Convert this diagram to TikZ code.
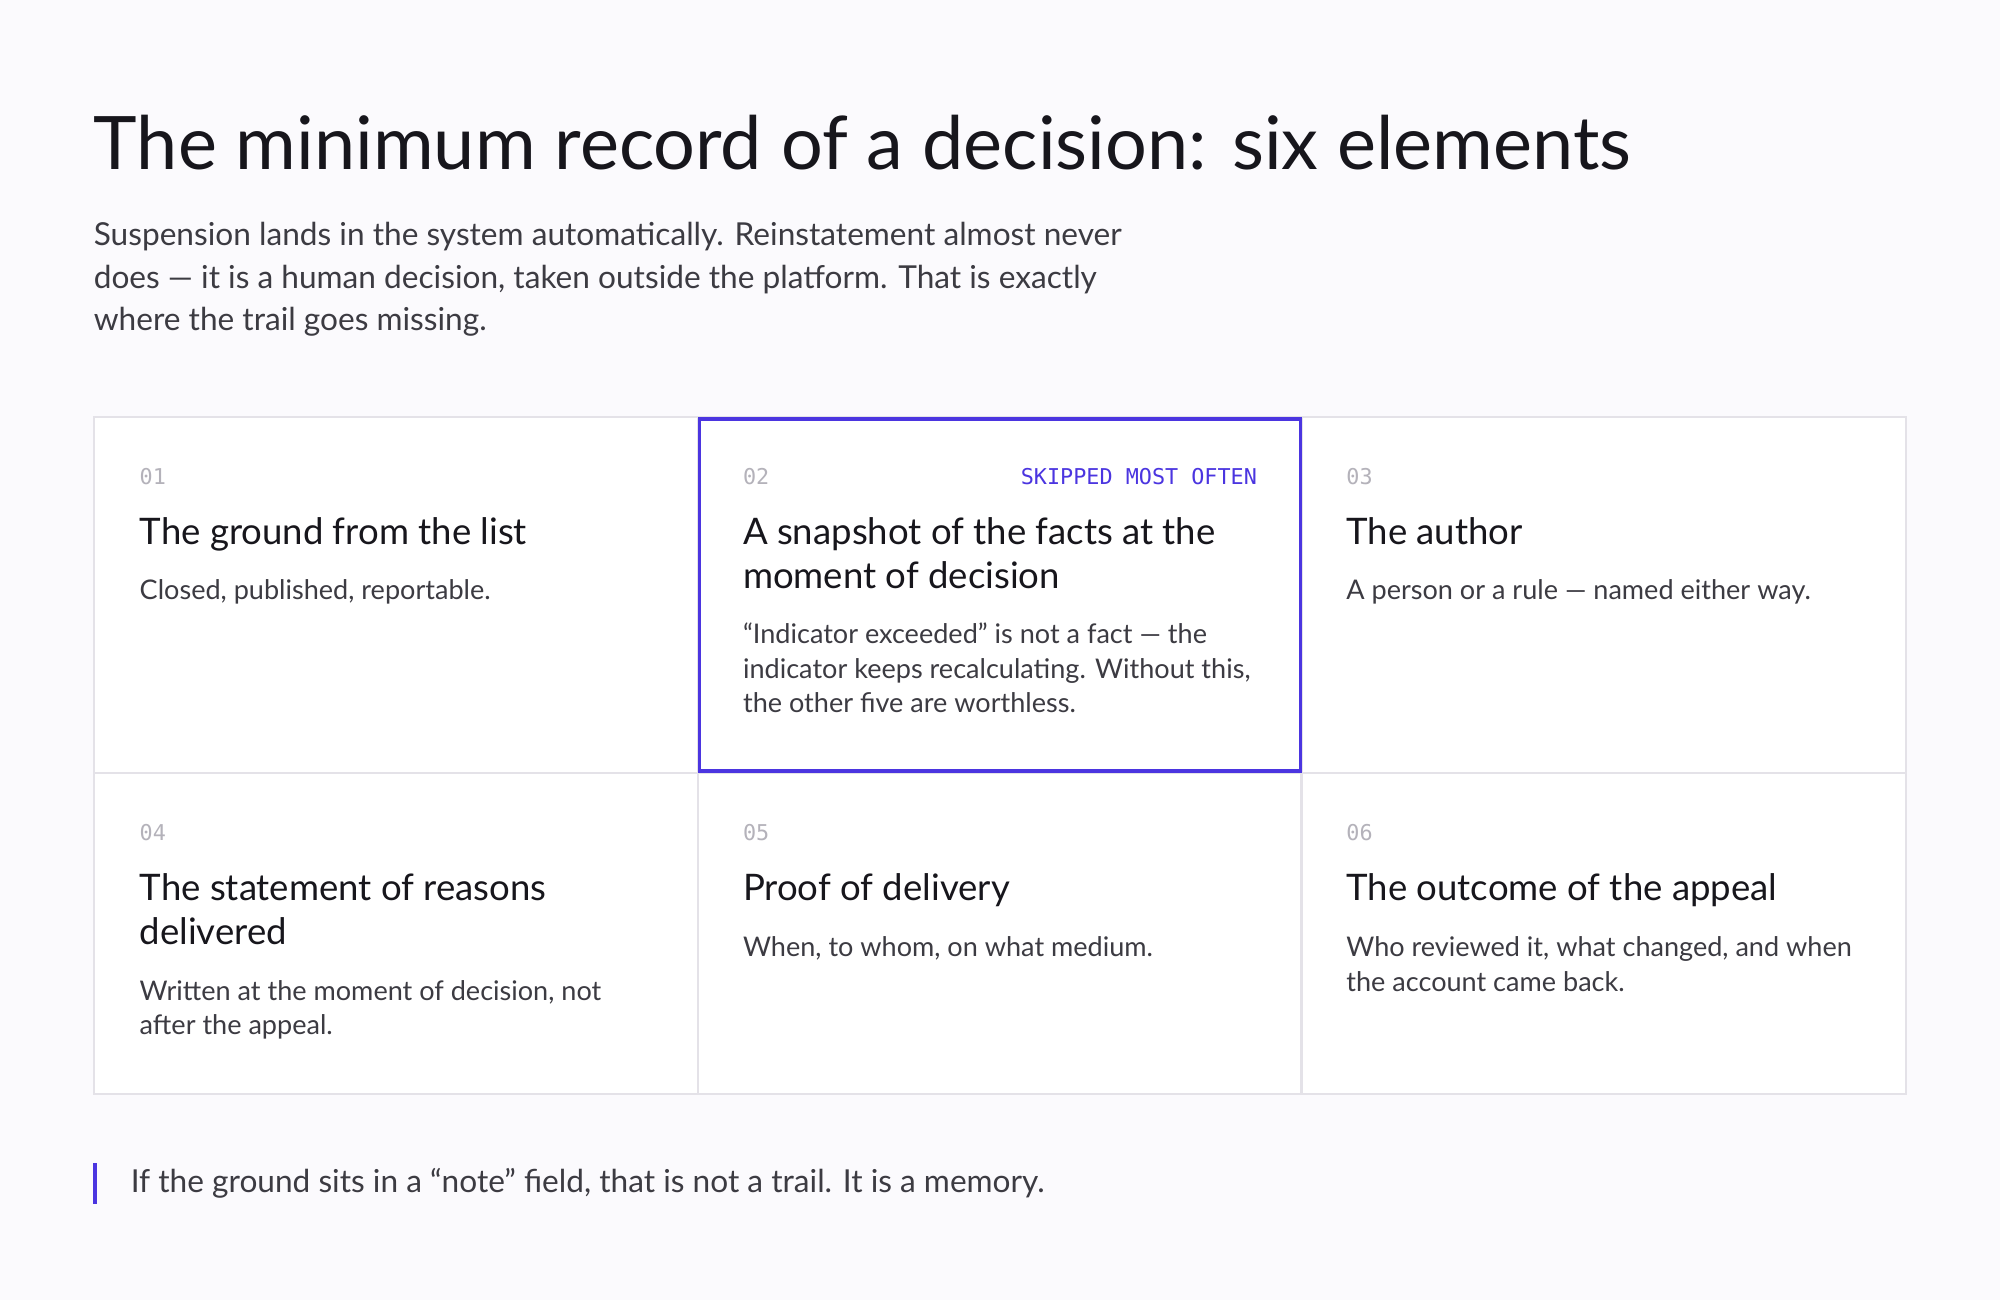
\documentclass[tikz,border=0pt]{standalone}
\usepackage{fontspec}
\setmainfont{Lato}
\setmonofont{DejaVu Sans Mono}
\usetikzlibrary{positioning}
\definecolor{pagebg}{HTML}{FBFAFD}
\definecolor{cardline}{HTML}{E4E2E8}
\definecolor{accent}{HTML}{4B35E0}
\definecolor{inkdark}{HTML}{17161C}
\definecolor{inkbody}{HTML}{3C3B42}
\definecolor{inknum}{HTML}{B4B2BA}

\begin{document}
\begin{tikzpicture}[
    x=0.012755cm, y=-0.012755cm,
    card/.style={draw=cardline, fill=white, line width=0.6pt},
    num/.style={anchor=west, inner sep=0pt, font=\ttfamily\fontsize{6.2}{7}\selectfont, text=inknum},
    tag/.style={anchor=east, inner sep=0pt, font=\ttfamily\fontsize{6.2}{7}\selectfont, text=accent},
    ttl/.style={anchor=north west, inner sep=0pt, align=left, font=\fontsize{10.4}{12.7}\selectfont, text=inkdark},
    body/.style={anchor=north west, inner sep=0pt, align=left, font=\fontsize{7.7}{9.8}\selectfont, text=inkbody}
]
\fill[pagebg] (0,0) rectangle (1568,1019);

% Heading
\node[anchor=west, inner sep=0pt, font=\fontsize{21}{24}\selectfont, text=inkdark] (title) at (73,112)
    {The minimum record of a decision: six elements};
\node[anchor=north west, inner sep=0pt, align=left, font=\fontsize{9}{12}\selectfont, text=inkbody] (lead) at (73,174)
    {Suspension lands in the system automatically. Reinstatement almost never\\
     does --- it is a human decision, taken outside the platform. That is exactly\\
     where the trail goes missing.};

% Grid of cards
\foreach \col/\x in {0/74, 1/547, 2/1021} {
  \draw[card] (\x,327) rectangle ++(473,279);
  \draw[card] (\x,606) rectangle ++(473,252);
}
\draw[accent, line width=1pt] (548.5,328.5) rectangle (1019.5,604.5);

% Row 1
\node[num] (n1) at (109,374) {01};
\node[ttl] (t1) at (109,405) {The ground from the list};
\node[body] (b1) at (109,454) {Closed, published, reportable.};

\node[num] (n2) at (582,374) {02};
\node[tag] (s2) at (986,374) {SKIPPED MOST OFTEN};
\node[ttl] (t2) at (582,405) {A snapshot of the facts at the\\moment of decision};
\node[body] (b2) at (582,488) {“Indicator exceeded” is not a fact --- the\\
    indicator keeps recalculating. Without this,\\the other five are worthless.};

\node[num] (n3) at (1055,374) {03};
\node[ttl] (t3) at (1055,405) {The author};
\node[body] (b3) at (1055,454) {A person or a rule --- named either way.};

% Row 2
\node[num] (n4) at (109,653) {04};
\node[ttl] (t4) at (109,684) {The statement of reasons\\delivered};
\node[body] (b4) at (109,768) {Written at the moment of decision, not\\after the appeal.};

\node[num] (n5) at (582,653) {05};
\node[ttl] (t5) at (582,684) {Proof of delivery};
\node[body] (b5) at (582,734) {When, to whom, on what medium.};

\node[num] (n6) at (1055,653) {06};
\node[ttl] (t6) at (1055,684) {The outcome of the appeal};
\node[body] (b6) at (1055,734) {Who reviewed it, what changed, and when\\the account came back.};

% Closing remark
\draw[accent, line width=1.1pt] (74.5,912) -- (74.5,944);
\node[anchor=west, inner sep=0pt, font=\fontsize{9}{11}\selectfont, text=inkbody] (note) at (102,928)
    {If the ground sits in a “note” field, that is not a trail. It is a memory.};
\end{tikzpicture}
\end{document}
